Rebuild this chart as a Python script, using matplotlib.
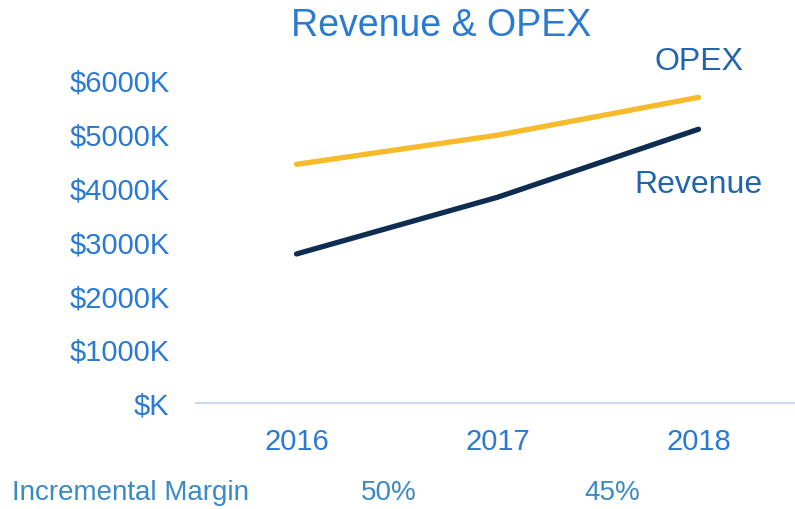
import matplotlib
matplotlib.use("Agg")
import matplotlib.pyplot as plt
import matplotlib.transforms as mtransforms

plt.rcParams['font.family'] = ['Liberation Sans', 'DejaVu Sans']

# data (in $K)
years = ['2016', '2017', '2018']
opex = [4420, 4960, 5660]
revenue = [2760, 3810, 5070]
margin_labels = ['50%', '45%']
margin_pos = [0.46, 1.57]
yticks = [0, 1000, 2000, 3000, 4000, 5000, 6000]

blue = '#2A7AD2'
fig = plt.figure(figsize=(7.95, 5.1), dpi=100)
ax = fig.add_axes([196 / 795, 106 / 510, 599 / 795, 324 / 510])

x = range(len(years))
ax.plot(x, opex, color='#F6BA2A', lw=3.8, solid_capstyle='round')
ax.plot(x, revenue, color='#0E2D50', lw=3.8, solid_capstyle='round')

ax.set_xlim(-0.5, 2.48)
ax.set_ylim(0, 6000)
ax.set_xticks(list(x))
ax.set_xticklabels(years)
ax.set_yticks(yticks)
ax.set_yticklabels(['$%dK' % v if v else '$K' for v in yticks])
ax.tick_params(axis='both', length=0, labelsize=21, labelcolor=blue)
ax.tick_params(axis='y', pad=19)
ax.tick_params(axis='x', pad=17)

for s in ['top', 'right', 'left']:
    ax.spines[s].set_visible(False)
ax.spines['bottom'].set_color('#C5DCF5')
ax.spines['bottom'].set_linewidth(1.5)

ax.text(2, 6330, 'OPEX', color='#2063AE', fontsize=23, ha='center', va='center', clip_on=False)
ax.text(2, 4060, 'Revenue', color='#2063AE', fontsize=23, ha='center', va='center', clip_on=False)

fig.text(441 / 795, 1 - 26 / 510, 'Revenue & OPEX', color=blue, fontsize=27,
         ha='center', va='center')

trans = mtransforms.blended_transform_factory(ax.transData, fig.transFigure)
fig.text(12 / 795, 1 - 493 / 510, 'Incremental Margin', color='#3A8AC4', fontsize=20,
         ha='left', va='center')
for p, lab in zip(margin_pos, margin_labels):
    ax.text(p, 1 - 493 / 510, lab, transform=trans, color='#3A8AC4', fontsize=20,
            ha='center', va='center', clip_on=False)

fig.savefig('out.png', dpi=100)
